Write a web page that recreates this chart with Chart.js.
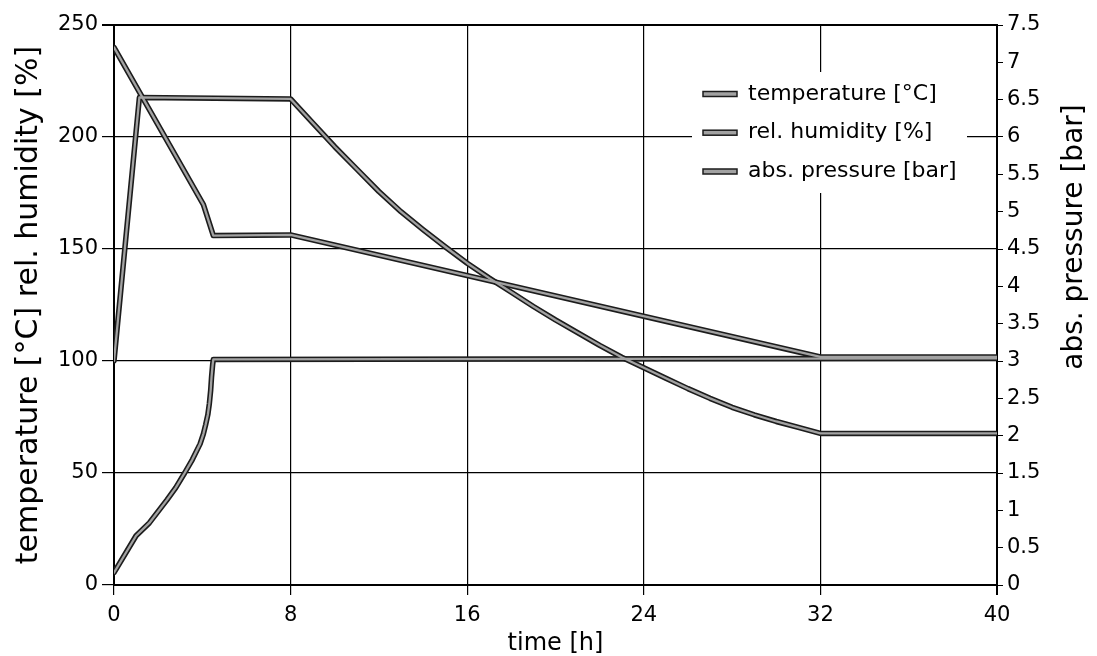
<!DOCTYPE html>
<html>
<head>
<meta charset="utf-8">
<script src="https://cdn.jsdelivr.net/npm/chart.js@4.4.1/dist/chart.umd.min.js"></script>
<style>
  html, body { margin: 0; padding: 0; background: #fff; }
  canvas { display: block; }
</style>
</head>
<body>
<canvas id="grafico" width="1097" height="656"></canvas>
<script>
// tick values
const xTicks = [0, 8, 16, 24, 32, 40];
const leftTicks = [0, 50, 100, 150, 200, 250];
const rightTicks = [0, 0.5, 1, 1.5, 2, 2.5, 3, 3.5, 4, 4.5, 5, 5.5, 6, 6.5, 7, 7.5];

const seriesLabels = ['temperature [°C]', 'rel. humidity [%]', 'abs. pressure [bar]'];

// temperature [°C] (left axis)
const timeTemp = [0, 4.05, 4.5, 8, 32, 40];
const temperature = [240, 169.8, 156, 156.3, 101.8, 101.8];

// rel. humidity [%] (left axis)
const timeHum = [0, 1.0, 1.6, 2.4, 2.8, 3.2, 3.55, 3.9, 4.05, 4.15, 4.25, 4.32, 4.38, 4.42, 4.47, 4.5, 40];
const humidity = [5.5, 22, 27.7, 38, 43.5, 50, 56, 63, 67.5, 71.5, 76, 81, 87, 93, 98.5, 100.7, 101.2];

// abs. pressure [bar] (right axis)
const timePress = [0, 1.15, 8, 9, 10, 11, 12, 13, 14, 15, 16, 17, 18, 19, 20, 21, 22, 23, 24, 25, 26, 27, 28, 29, 30, 31, 32, 40];
const pressure = [3.0, 6.53, 6.51, 6.19, 5.87, 5.57, 5.27, 5.0, 4.76, 4.53, 4.31, 4.11, 3.92, 3.73, 3.55, 3.38, 3.21,
  3.05, 2.91, 2.77, 2.63, 2.5, 2.38, 2.28, 2.19, 2.11, 2.03, 2.03];

const FONT = 'DejaVu Sans';
const escuro = '#1c1c1c';
const cinza = '#a2a2a2';

function pontos(xs, ys) {
  return xs.map((x, i) => ({ x: x, y: ys[i] }));
}

function pares(label, data, eixo) {
  return [
    { label: '', data: data, yAxisID: eixo, borderColor: escuro, borderWidth: 5.5,
      pointRadius: 0, order: 2, borderJoinStyle: 'round', borderCapStyle: 'round' },
    { label: label, data: data, yAxisID: eixo, borderColor: cinza, borderWidth: 2.3,
      pointRadius: 0, order: 1, borderJoinStyle: 'round', borderCapStyle: 'round' }
  ];
}

const datasets = [].concat(
  pares(seriesLabels[0], pontos(timeTemp, temperature), 'y'),
  pares(seriesLabels[1], pontos(timeHum, humidity), 'y'),
  pares(seriesLabels[2], pontos(timePress, pressure), 'y1')
);

// legend inside plot + right axis title
const extras = {
  id: 'extras',
  afterDatasetsDraw(chart) {
    const ctx = chart.ctx;
    ctx.save();
    ctx.fillStyle = '#fff';
    ctx.fillRect(692, 72, 275, 121);
    const ys = [94, 132.7, 171.5];
    ctx.font = '22px "' + FONT + '"';
    ctx.textBaseline = 'middle';
    ctx.textAlign = 'left';
    seriesLabels.forEach((txt, i) => {
      ctx.fillStyle = cinza;
      ctx.fillRect(703, ys[i] - 2.5, 34, 5);
      ctx.strokeStyle = escuro;
      ctx.lineWidth = 1.5;
      ctx.strokeRect(703, ys[i] - 2.5, 34, 5);
      ctx.fillStyle = '#000';
      ctx.fillText(txt, 748, ys[i]);
    });
    ctx.restore();
  },
  afterDraw(chart) {
    const ctx = chart.ctx;
    ctx.save();
    ctx.translate(1075, 237);
    ctx.rotate(-Math.PI / 2);
    ctx.font = '28px "' + FONT + '"';
    ctx.fillStyle = '#000';
    ctx.textAlign = 'center';
    ctx.textBaseline = 'middle';
    ctx.fillText('abs. pressure [bar]', 0, 0);
    ctx.restore();
  }
};

function fixar(lista) {
  return scale => { scale.ticks = lista.map(v => ({ value: v })); };
}

new Chart(document.getElementById('grafico').getContext('2d'), {
  type: 'line',
  data: { datasets: datasets },
  options: {
    responsive: false,
    animation: false,
    devicePixelRatio: 1,
    layout: { padding: { top: 25, left: 0, right: 0, bottom: 0 } },
    plugins: { legend: { display: false }, tooltip: { enabled: false } },
    scales: {
      x: {
        type: 'linear', position: 'bottom', min: 0, max: 40,
        afterBuildTicks: fixar(xTicks),
        afterFit: s => { s.height = 71; },
        ticks: { color: '#000', font: { family: FONT, size: 21 }, padding: 8, maxRotation: 0 },
        grid: { color: '#000', lineWidth: c => (c.tick && c.tick.value === 40 ? 2 : 1.2), tickLength: 10, tickColor: '#000' },
        border: { color: '#000', width: 2 },
        title: { display: true, text: 'time [h]', color: '#000', font: { family: FONT, size: 24, lineHeight: 1 }, padding: { top: 0, bottom: 0 } }
      },
      y: {
        type: 'linear', position: 'left', min: 0, max: 250,
        afterBuildTicks: fixar(leftTicks),
        afterFit: s => { s.width = 114; },
        ticks: { color: '#000', font: { family: FONT, size: 21 }, padding: 4 },
        grid: { color: '#000', lineWidth: c => (c.tick && c.tick.value === 250 ? 2 : 1.2), tickLength: 12, tickColor: '#000' },
        border: { color: '#000', width: 2 },
        title: { display: true, text: 'temperature [°C] rel. humidity [%]', color: '#000', font: { family: FONT, size: 30, lineHeight: 1 }, padding: { top: 14, bottom: 0 } }
      },
      y1: {
        type: 'linear', position: 'right', min: 0, max: 7.5,
        afterBuildTicks: fixar(rightTicks),
        afterFit: s => { s.width = 100; },
        ticks: { color: '#000', font: { family: FONT, size: 21 }, padding: 4, callback: v => String(+v.toFixed(1)) },
        grid: { drawOnChartArea: false, tickLength: 6, tickColor: '#000' },
        border: { color: '#000', width: 2 }
      }
    }
  },
  plugins: [extras]
});
</script>
</body>
</html>
